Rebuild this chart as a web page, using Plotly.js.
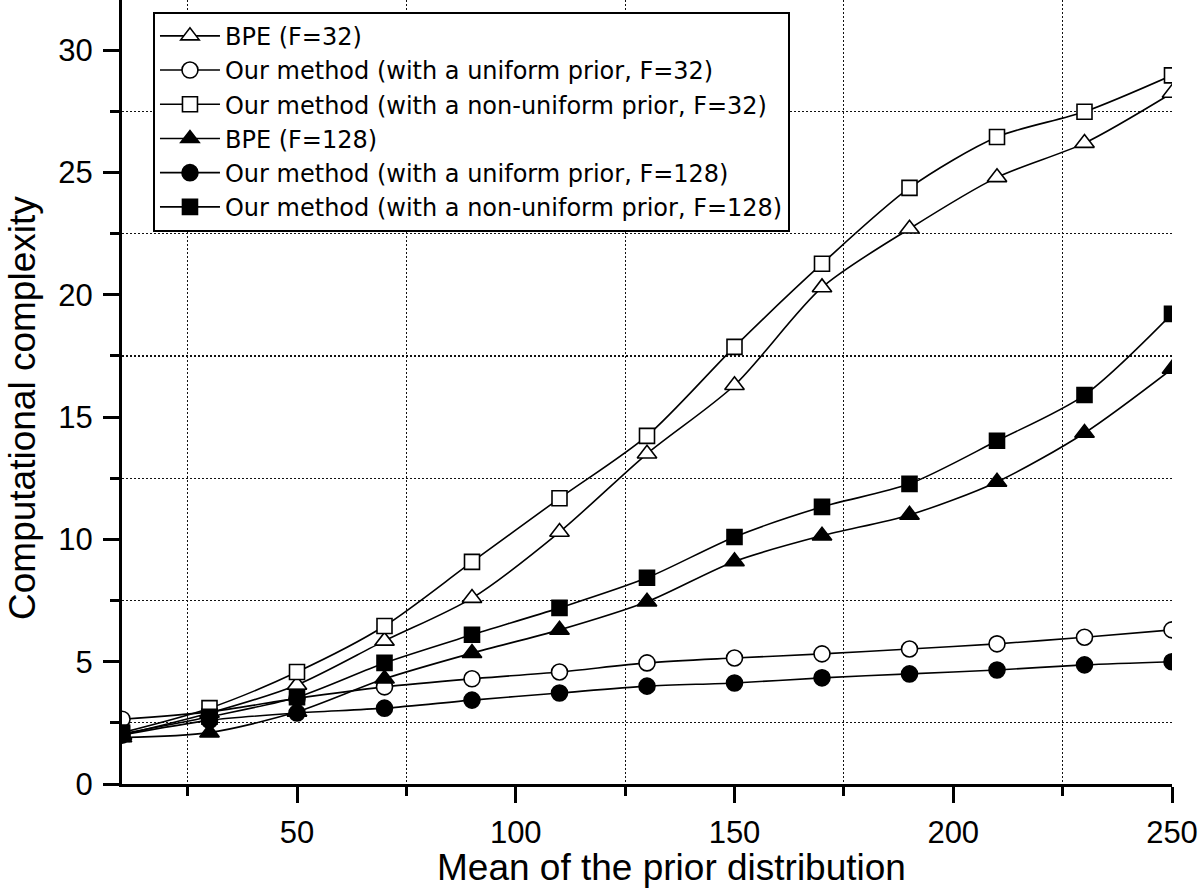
<!DOCTYPE html>
<html>
<head>
<meta charset="utf-8">
<script src="https://cdn.plot.ly/plotly-3.0.1.min.js"></script>
<style>html,body{margin:0;padding:0;background:#fff;}#chart{width:1200px;height:896px;}</style>
</head>
<body>
<div id="chart"></div>
<script>
const meanPrior = [10, 30, 50, 70, 90, 110, 130, 150, 170, 190, 210, 230, 250];
const bpe32 = [2.0, 2.9, 4.05, 5.85, 7.6, 10.3, 13.5, 16.3, 20.3, 22.7, 24.8, 26.2, 28.25];
const ourUniform32 = [2.65, 2.95, 3.5, 3.97, 4.3, 4.58, 4.95, 5.15, 5.32, 5.52, 5.73, 6.0, 6.3];
const ourNonUniform32 = [2.1, 3.1, 4.58, 6.46, 9.08, 11.68, 14.23, 17.87, 21.27, 24.37, 26.45, 27.48, 28.97];
const bpe128 = [1.9, 2.1, 2.95, 4.3, 5.35, 6.3, 7.45, 9.1, 10.15, 11.0, 12.35, 14.35, 16.97];
const ourUniform128 = [2.0, 2.6, 2.9, 3.1, 3.43, 3.72, 4.0, 4.13, 4.34, 4.5, 4.66, 4.87, 5.0];
const ourNonUniform128 = [2.05, 2.75, 3.55, 4.95, 6.1, 7.2, 8.43, 10.1, 11.33, 12.27, 14.03, 15.9, 19.22];

const seriesNames = [
  'BPE (F=32)',
  'Our method (with a uniform prior, F=32)',
  'Our method (with a non-uniform prior, F=32)',
  'BPE (F=128)',
  'Our method (with a uniform prior, F=128)',
  'Our method (with a non-uniform prior, F=128)'
];
const seriesValues = [bpe32, ourUniform32, ourNonUniform32, bpe128, ourUniform128, ourNonUniform128];
const symbols = ['triangle-up', 'circle', 'square', 'triangle-up', 'circle', 'square'];
const fills = ['#ffffff', '#ffffff', '#ffffff', '#000000', '#000000', '#000000'];
const sizes = [17, 16, 15, 17, 16, 15];

const traces = seriesValues.map((vals, i) => ({
  type: 'scatter',
  mode: 'lines+markers',
  x: meanPrior,
  y: vals,
  name: seriesNames[i],
  line: {color: '#000', width: 1.6, shape: 'spline', smoothing: 0.8},
  marker: {symbol: symbols[i], size: sizes[i], color: fills[i], line: {color: '#000', width: 1.6}}
}));

const font = 'Liberation Sans, Arial, Helvetica, sans-serif';

const layout = {
  width: 1200, height: 896,
  margin: {l: 122, r: 28, t: 0, b: 112},
  paper_bgcolor: '#fff', plot_bgcolor: '#fff',
  font: {family: font, color: '#000'},
  showlegend: true,
  legend: {
    x: 0.0295, y: 0.985, xanchor: 'left', yanchor: 'top',
    bgcolor: '#fff', bordercolor: '#000', borderwidth: 2,
    font: {family: 'DejaVu Sans, sans-serif', size: 24, color: '#000'},
    itemwidth: 60, tracegroupgap: 0
  },
  xaxis: {
    range: [10, 250],
    tickmode: 'linear', tick0: 0, dtick: 50,
    ticks: 'outside', ticklen: 16, tickwidth: 3, tickcolor: '#000',
    showline: true, linewidth: 3, linecolor: '#000',
    showgrid: false, zeroline: false,
    tickfont: {family: font, size: 31, color: '#000'},
    ticklabelstandoff: 3,
    minor: {dtick: 25, ticks: 'outside', ticklen: 9, tickwidth: 3, tickcolor: '#000',
            showgrid: true, gridcolor: '#111', gridwidth: 1.2, griddash: '2px,2px'}
  },
  yaxis: {
    range: [0, 32.05],
    tickmode: 'linear', tick0: 0, dtick: 5,
    ticks: 'outside', ticklen: 16, tickwidth: 3, tickcolor: '#000',
    showline: true, linewidth: 3, linecolor: '#000',
    showgrid: false, zeroline: false,
    tickfont: {family: font, size: 31, color: '#000'},
    ticklabelstandoff: 4,
    minor: {dtick: 2.5, ticks: 'outside', ticklen: 9, tickwidth: 3, tickcolor: '#000',
            showgrid: true, gridcolor: '#111', gridwidth: 1.2, griddash: '2px,2px'}
  },
  annotations: [
    {text: 'Mean of the prior distribution', xref: 'paper', yref: 'paper',
     x: 0.5229, y: -0.107, xanchor: 'center', yanchor: 'middle', showarrow: false,
     font: {family: font, size: 37, color: '#000'}},
    {text: 'Computational complexity', xref: 'paper', yref: 'paper',
     x: -0.095, y: 0.48, xanchor: 'center', yanchor: 'middle', showarrow: false, textangle: -90,
     font: {family: font, size: 37, color: '#000'}}
  ]
};

Plotly.newPlot('chart', traces, layout, {staticPlot: true});
</script>
</body>
</html>
